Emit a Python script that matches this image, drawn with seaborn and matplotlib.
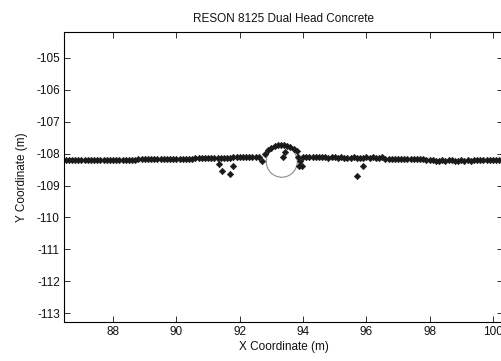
import matplotlib
matplotlib.use("Agg")
import matplotlib.pyplot as plt
import seaborn as sns
import pandas as pd
from matplotlib.patches import Circle

# ---- data ----
ground_x = [86.5, 86.6, 86.7, 86.8, 86.9, 87.0, 87.1, 87.2, 87.3, 87.4, 87.5, 87.6, 87.7, 87.8, 87.9,
            88.0, 88.1, 88.2, 88.3, 88.4, 88.5, 88.6, 88.7, 88.8, 88.9, 89.0, 89.1, 89.2, 89.3, 89.4,
            89.5, 89.6, 89.7, 89.8, 89.9, 90.0, 90.1, 90.2, 90.3, 90.4, 90.5, 90.6, 90.7, 90.8, 90.9,
            91.0, 91.1, 91.2, 91.3, 91.4, 91.5, 91.6, 91.7, 91.8, 91.9, 92.0, 92.1, 92.2, 92.3, 92.4,
            92.5, 92.6, 92.7, 92.8, 92.9, 93.0, 93.1, 93.2, 93.3, 93.4, 93.5, 93.6, 93.7, 93.8, 93.85,
            94.0, 94.1, 94.2, 94.3, 94.4, 94.5, 94.6, 94.7, 94.8, 94.9, 95.0, 95.1, 95.2, 95.3, 95.4,
            95.5, 95.6, 95.7, 95.8, 95.9, 96.0, 96.1, 96.2, 96.3, 96.4, 96.5, 96.6, 96.7, 96.8, 96.9,
            97.0, 97.1, 97.2, 97.3, 97.4, 97.5, 97.6, 97.7, 97.8, 97.9, 98.0, 98.1, 98.2, 98.3, 98.4,
            98.5, 98.6, 98.7, 98.8, 98.9, 99.0, 99.1, 99.2, 99.3, 99.4, 99.5, 99.6, 99.7, 99.8, 99.9,
            100.0, 100.1, 100.2, 100.3]
ground_y = [-108.19, -108.20, -108.20, -108.20, -108.21, -108.20, -108.20, -108.20, -108.20, -108.21,
            -108.20, -108.20, -108.20, -108.20, -108.20, -108.20, -108.20, -108.21, -108.20, -108.20,
            -108.20, -108.20, -108.19, -108.16, -108.18, -108.17, -108.17, -108.17, -108.17, -108.17,
            -108.16, -108.17, -108.17, -108.17, -108.16, -108.17, -108.16, -108.16, -108.16, -108.16,
            -108.16, -108.13, -108.15, -108.14, -108.14, -108.14, -108.14, -108.14, -108.14, -108.14,
            -108.15, -108.15, -108.14, -108.11, -108.11, -108.11, -108.10, -108.11, -108.11, -108.10,
            -108.11, -108.12, -108.22, -108.02, -107.90, -107.82, -107.77, -107.74, -107.72, -107.74,
            -107.77, -107.80, -107.85, -107.92, -108.10,
            -108.12, -108.12, -108.11, -108.12, -108.12, -108.12, -108.12, -108.12, -108.13, -108.12,
            -108.12, -108.13, -108.12, -108.13, -108.13, -108.13, -108.12, -108.13, -108.14, -108.13,
            -108.12, -108.13, -108.12, -108.14, -108.13, -108.10, -108.16, -108.16, -108.17, -108.17,
            -108.17, -108.18, -108.17, -108.18, -108.17, -108.18, -108.18, -108.18, -108.18, -108.19,
            -108.19, -108.21, -108.22, -108.22, -108.21, -108.22, -108.20, -108.21, -108.22, -108.22,
            -108.21, -108.22, -108.21, -108.22, -108.20, -108.21, -108.20, -108.19, -108.21, -108.20,
            -108.20, -108.20, -108.20, -108.21]
outlier_x = [91.36, 91.43, 91.78, 91.70, 93.43, 93.38, 93.91, 93.96, 93.88, 95.89, 95.70]
outlier_y = [-108.34, -108.53, -108.38, -108.63, -107.96, -108.10, -108.22, -108.40, -108.40, -108.40, -108.71]

circle_center = (93.33, -108.25)
circle_radius = 0.49

title = "RESON 8125 Dual Head Concrete"
x_label = "X Coordinate (m)"
y_label = "Y Coordinate (m)"
x_ticks = [88, 90, 92, 94, 96, 98, 100]
y_ticks = [-105, -106, -107, -108, -109, -110, -111, -112, -113]

df = pd.DataFrame({"x": ground_x + outlier_x, "y": ground_y + outlier_y})

# ---- plot ----
sns.set_theme(style="white")
plt.rcParams["font.family"] = ["Liberation Sans", "DejaVu Sans"]
plt.rcParams["xtick.direction"] = "in"
plt.rcParams["ytick.direction"] = "in"
plt.rcParams["text.color"] = "#111111"
plt.rcParams["axes.labelcolor"] = "#111111"

fig = plt.figure(figsize=(5.01, 3.61), dpi=100)
ax = fig.add_axes([64 / 501, (361 - 322) / 361, (503 - 64) / 501, (322 - 32) / 361])

ax.add_patch(Circle(circle_center, circle_radius, fill=False, edgecolor="#8c8c8c", linewidth=0.8, zorder=1))
sns.scatterplot(data=df, x="x", y="y", ax=ax, marker="D", s=11, color="#1a1a1a",
                edgecolor="#1a1a1a", linewidth=0.4, zorder=2)

ax.set_xlim(86.452, 100.316)
ax.set_ylim(-113.28, -104.185)
ax.set_xticks(x_ticks)
ax.set_xticklabels([str(t) for t in x_ticks])
ax.set_yticks(y_ticks)
ax.set_yticklabels([str(t) for t in y_ticks])
ax.tick_params(axis="both", labelsize=8.5, colors="#111111", length=4, width=0.6,
               top=True, right=True, bottom=True, left=True, pad=3)
for s in ax.spines.values():
    s.set_color("#000000")
    s.set_linewidth(0.8)

ax.set_title(title, fontsize=8.5, pad=7)
ax.set_xlabel(x_label, fontsize=8.5, labelpad=2)
ax.set_ylabel(y_label, fontsize=8.5, labelpad=6)

fig.savefig("out.png", dpi=100)
